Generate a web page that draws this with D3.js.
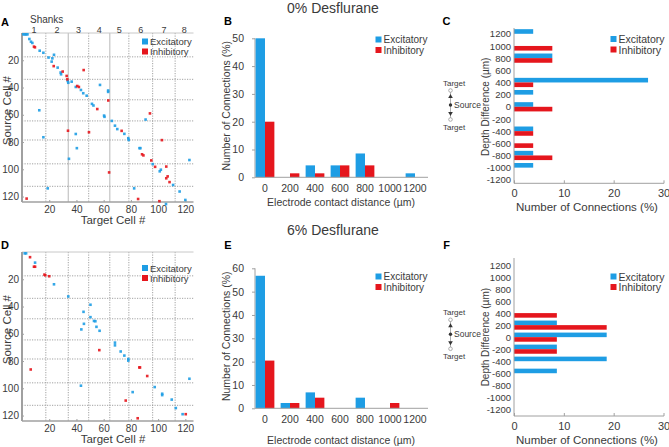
<!DOCTYPE html>
<html><head><meta charset="utf-8">
<script src="https://cdn.jsdelivr.net/npm/d3@7"></script>
<style>
body{margin:0;background:#fff;}
svg{font-family:Arial,"Liberation Sans",sans-serif;}
</style>
</head><body>
<svg id="c" width="669" height="447"></svg>
<script>
// ---------------- DATA ----------------
const shankBounds = [0, 17.5, 34, 49, 64.5, 78.5, 96, 112.5, 126];
const shankLabels = ["1","2","3","4","5","6","7","8"];
const cellTicks = [20, 40, 60, 80, 100, 120];

// [target cell, source cell]
const excit0 = [[1,1],[2,1],[3,1],[4,1],[5.4,4.4],[6.6,6.4],[7.6,7.3],[13,13],[15.7,14.5],[19.5,18],[23.5,16],[22.3,18.6],[21.8,21],[26.2,25.4],[28.4,29],[28.7,30.3],[33.6,35.2],[34,36.5],[36.5,35.7],[39.5,39.6],[43.3,41.8],[45,44.2],[47.5,46],[57.3,38.1],[63.3,42.2],[63.3,43.2],[51.4,52],[52.5,53.2],[60.3,60.6],[60.6,61.5],[66,64.5],[68.3,68],[70,70.5],[75.2,74],[78.1,77.2],[78.4,78.5],[90.8,63.5],[12.7,56.7],[15.7,76.5],[39.5,74.1],[40.3,84.5],[34.5,92.3],[18.9,114],[82.4,114],[86.3,84.5],[87,84.5],[96,96.2],[101.2,101.5],[102,100.3],[111,111.5],[115.8,116.3],[120,122.5],[105.8,125.5],[123,93.2]];
const inhib0 = [[8.8,10],[9.5,10.5],[23.3,24.3],[29.9,28.3],[32.8,31.5],[33.3,34],[40.6,38.9],[41.8,39.6],[45.3,27.2],[63.4,49.5],[55.3,55.8],[73.2,71.8],[49.2,72.8],[33.8,71.7],[64,102.3],[3.4,121.5],[85.3,121.8],[102.8,78.6],[94,59],[88.2,89],[89.2,89.8],[95,93.5],[97.8,98.2],[106,98],[107,105.2],[106,106.6],[108.4,109.4],[101,123.4]];
const excit6 = [[2,1],[3,1],[9.6,7.8],[23.5,23.7],[34,32.6],[50.3,38.7],[45.2,43.9],[50.3,47.8],[52.9,50.6],[53.9,50.8],[45.5,52.7],[54.7,54.9],[43.6,56.8],[57,57.8],[68.3,66.5],[68.3,68.5],[72.5,73],[75.2,76],[78.1,78.5],[78.1,79.7],[43.3,98.1],[81.3,102.8],[97.5,99.1],[103,104],[103,105],[110,108.3],[113,114.5],[118,119],[123,93]];
const inhib6 = [[5.9,3.8],[8.8,10.8],[9.6,10.8],[16.5,16.6],[17.1,17.1],[20,17.8],[56.8,72],[86.2,84.7],[86.7,84.7],[92,91],[6.4,86.2],[76.2,109],[85,122],[120.3,119]];

const distCats = ["0","200","400","600","800","1000","1200"];
const distExc0 = [50, 0, 4.29, 4.29, 8.57, 0, 1.43];
const distInh0 = [20, 1.43, 1.43, 4.29, 4.29, 0, 0];
const distExc6 = [56.8, 2.27, 6.82, 0, 4.55, 0, 0];
const distInh6 = [20.45, 2.27, 4.55, 0, 0, 2.27, 0];
const distTicks0 = [0,10,20,30,40,50];
const distTicks6 = [0,10,20,30,40,50,60];

const depthCats = ["1200","1000","800","600","400","200","0","-200","-400","-600","-800","-1000","-1200"];
const depthExc0 = [3.85, 0, 7.69, 0, 26.9, 3.85, 3.85, 0, 3.85, 0, 3.85, 3.85, 0];
const depthInh0 = [0, 7.69, 7.69, 0, 3.85, 0, 7.69, 0, 3.85, 3.85, 7.69, 0, 0];
const depthExc6 = [0, 0, 0, 0, 0, 8.6, 18.6, 8.6, 18.6, 8.6, 0, 0, 0];
const depthInh6 = [0, 0, 0, 0, 8.6, 18.6, 8.6, 8.6, 0, 0, 0, 0, 0];
const depthTicks = [0, 10, 20, 30];

const seriesNames = ["Excitatory", "Inhibitory"];

// ---------------- STYLE ----------------
const BLUE = "#1e9de4", RED = "#e5161d";
const AX = "#a0a0a0", TXT = "#3a3a3a";
const svg = d3.select("#c");

function txt(g, x, y, s, o = {}) {
  const t = g.append("text").attr("x", x).attr("y", y).text(s)
    .attr("font-size", o.size || 10).attr("fill", o.fill || TXT)
    .attr("text-anchor", o.anchor || "middle")
    .attr("dominant-baseline", "central");
  if (o.weight) t.attr("font-weight", o.weight);
  if (o.rotate) t.attr("transform", `rotate(${o.rotate},${x},${y})`);
  return t;
}
function legend(g, x, y, size, gap) {
  seriesNames.forEach((n, i) => {
    g.append("rect").attr("x", x - 3).attr("y", y + i * gap - 3).attr("width", 6).attr("height", 6)
      .attr("fill", i ? RED : BLUE);
    txt(g, x + 5, y + i * gap, n, {size, anchor: "start"});
  });
}
function styleAxis(a, size) {
  a.selectAll("text").attr("fill", TXT).attr("font-size", size).attr("font-family", "Arial, Liberation Sans, sans-serif");
  a.selectAll("line").attr("stroke", AX);
  a.select(".domain").remove();
}

// ---------------- SCATTER (A, D) ----------------
function scatterPanel(top, exc, inh, shanks, letter, letterY, legY) {
  const g = svg.append("g");
  const x = d3.scaleLinear().domain([0, 126]).range([22, 193.5]);
  const y = d3.scaleLinear().domain([0, 124]).range([top, top + 169]);
  // grid
  shankBounds.slice(1, -1).forEach((b, i) => {
    const solid = shanks && (i === 1 || i === 3);
    g.append("line").attr("x1", x(b)).attr("x2", x(b)).attr("y1", y(0)).attr("y2", y(124))
      .attr("stroke", solid ? "#c4c4c4" : "#8a8a8a").attr("stroke-width", solid ? 1.2 : 0.8)
      .attr("stroke-dasharray", solid ? null : "1.2,1.3");
    g.append("line").attr("x1", x(0)).attr("x2", x(126)).attr("y1", y(b)).attr("y2", y(b))
      .attr("stroke", "#8a8a8a").attr("stroke-width", 0.8).attr("stroke-dasharray", "1.2,1.3");
  });
  // frame
  g.append("line").attr("x1", x(0)).attr("x2", x(126)).attr("y1", y(0)).attr("y2", y(0)).attr("stroke", "#c8c8c8");
  g.append("line").attr("x1", x(0)).attr("x2", x(0)).attr("y1", y(0)).attr("y2", y(124)).attr("stroke", AX).attr("stroke-width", 2);
  g.append("line").attr("x1", x(0)).attr("x2", x(126)).attr("y1", y(124)).attr("y2", y(124)).attr("stroke", AX).attr("stroke-width", 1.5);
  // axes
  const ay = g.append("g").attr("transform", `translate(${x(0)},0)`)
    .call(d3.axisLeft(y).tickValues(cellTicks).tickSizeInner(-2).tickSizeOuter(0).tickPadding(3));
  styleAxis(ay, 10);
  const ax = g.append("g").attr("transform", `translate(0,${y(124)})`)
    .call(d3.axisBottom(x).tickValues(cellTicks).tickSizeInner(-2).tickSizeOuter(0).tickPadding(4));
  styleAxis(ax, 10);
  // points
  const s = 2.6;
  g.selectAll(".e").data(exc).join("rect").attr("x", d => x(d[0]) - s / 2).attr("y", d => y(d[1]) - s / 2)
    .attr("width", s).attr("height", s).attr("fill", BLUE).attr("opacity", 0.9);
  g.selectAll(".i").data(inh).join("rect").attr("x", d => x(d[0]) - s / 2).attr("y", d => y(d[1]) - s / 2)
    .attr("width", s).attr("height", s).attr("fill", RED).attr("opacity", 0.9);
  // shank labels
  if (shanks) {
    txt(g, 30, top - 13.5, "Shanks", {size: 10, anchor: "start"});
    shankLabels.forEach((s, i) => txt(g, x((shankBounds[i] + shankBounds[i + 1]) / 2), top - 3, s, {size: 9}));
  }
  legend(g, 145, legY, 9.5, 10);
  txt(g, 113, y(124) + 18, "Target Cell #", {size: 11.5});
  txt(g, 7, y(57), "Source Cell #", {size: 11.5, rotate: -90});
  txt(g, 5, letterY, letter, {size: 11, weight: "bold", fill: "#000"});
}

// ---------------- DISTANCE BARS (B, E) ----------------
function distPanel(bottom, top, yMax, ticks, exc, inh, title, titleY, letter, letterY, xlabY, legY) {
  const g = svg.append("g");
  const x = d3.scaleBand().domain(distCats).range([252.5, 427.5]).paddingInner(0.25).paddingOuter(0.125);
  const xs = d3.scaleBand().domain(seriesNames).range([0, x.bandwidth()]);
  const y = d3.scaleLinear().domain([0, yMax]).range([bottom, top]);
  const ay = g.append("g").attr("transform", "translate(255,0)")
    .call(d3.axisLeft(y).tickValues(ticks).tickSize(3).tickPadding(8));
  styleAxis(ay, 10.5);
  g.append("line").attr("x1", 255).attr("x2", 255).attr("y1", y(0)).attr("y2", y(yMax)).attr("stroke", AX);
  const ax = g.append("g").attr("transform", `translate(0,${bottom})`)
    .call(d3.axisBottom(x).tickSize(0).tickPadding(7));
  styleAxis(ax, 10.5);
  distCats.forEach((c, i) => {
    [exc[i], inh[i]].forEach((v, k) => {
      if (v <= 0) return;
      g.append("rect").attr("x", x(c) + xs(seriesNames[k])).attr("width", xs.bandwidth())
        .attr("y", y(v)).attr("height", y(0) - y(v)).attr("fill", k ? RED : BLUE);
    });
  });
  g.append("line").attr("x1", 255).attr("x2", 428).attr("y1", bottom).attr("y2", bottom).attr("stroke", AX);
  txt(g, 226, (top + bottom) / 2 - 2, "Number of Connections (%)", {size: 10.5, rotate: -90});
  txt(g, 341, xlabY, "Electrode contact distance (µm)", {size: 10.5});
  txt(g, 333, titleY, title, {size: 14});
  txt(g, 228, letterY, letter, {size: 11, weight: "bold", fill: "#000"});
  legend(g, 378.5, legY, 10, 10.5);
}

// ---------------- DEPTH BARS (C, F) ----------------
function depthPanel(c0, c1, axisY, axisTop, exc, inh, letter, letterY, dotY, legY) {
  const g = svg.append("g");
  const x = d3.scaleLinear().domain([0, 30]).range([514, 663.5]);
  const y = d3.scalePoint().domain(depthCats).range([c0, c1]);
  const bh = y.step() * 0.38;
  depthCats.forEach((c, i) => {
    [exc[i], inh[i]].forEach((v, k) => {
      if (v <= 0) return;
      g.append("rect").attr("x", x(0)).attr("width", x(v) - x(0))
        .attr("y", k ? y(c) : y(c) - bh).attr("height", bh).attr("fill", k ? RED : BLUE);
    });
  });
  const ay = g.append("g").attr("transform", "translate(514,0)")
    .call(d3.axisLeft(y).tickSize(0).tickPadding(3));
  styleAxis(ay, 9.5);
  g.append("line").attr("x1", 514).attr("x2", 514).attr("y1", axisTop).attr("y2", axisY).attr("stroke", AX);
  const ax = g.append("g").attr("transform", `translate(0,${axisY})`)
    .call(d3.axisBottom(x).tickValues(depthTicks).tickSizeInner(-3).tickSizeOuter(0).tickPadding(6));
  styleAxis(ax, 11);
  g.append("line").attr("x1", 514).attr("x2", 664).attr("y1", axisY).attr("y2", axisY).attr("stroke", AX);
  txt(g, 587, axisY + 23.5, "Number of Connections (%)", {size: 11.5});
  txt(g, 485.5, (c0 + c1) / 2, "Depth Difference (µm)", {size: 10, rotate: -90});
  txt(g, 446.5, letterY, letter, {size: 11, weight: "bold", fill: "#000"});
  legend(g, 613.5, legY, 10.5, 10.5);
  // source/target inset
  const ix = 450.5;
  g.append("line").attr("x1", ix).attr("x2", ix).attr("y1", dotY - 14.5).attr("y2", dotY + 14.5).attr("stroke", "#999").attr("stroke-width", 0.8);
  [-14.5, 14.5].forEach(d => g.append("circle").attr("cx", ix).attr("cy", dotY + d).attr("r", 1.8)
    .attr("fill", "#fff").attr("stroke", "#999").attr("stroke-width", 0.8));
  g.append("path").attr("d", `M${ix - 2.3},${dotY - 7}L${ix + 2.3},${dotY - 7}L${ix},${dotY - 11}Z`).attr("fill", "#333");
  g.append("path").attr("d", `M${ix - 2.3},${dotY + 7}L${ix + 2.3},${dotY + 7}L${ix},${dotY + 11}Z`).attr("fill", "#333");
  g.append("circle").attr("cx", ix).attr("cy", dotY).attr("r", 1.7).attr("fill", "#333");
  txt(g, 443, dotY - 22, "Target", {size: 8, anchor: "start"});
  txt(g, 454, dotY, "Source", {size: 8.5, anchor: "start"});
  txt(g, 443, dotY + 22, "Target", {size: 8, anchor: "start"});
}

scatterPanel(33, excit0, inhib0, true, "A", 21.5, 41.5);
scatterPanel(252, excit6, inhib6, false, "D", 245, 268);
distPanel(177.3, 38.3, 50, distTicks0, distExc0, distInh0, "0% Desflurane", 8, "B", 20.5, 201.5, 39.5);
distPanel(408.3, 268.3, 60, distTicks6, distExc6, distInh6, "6% Desflurane", 230, "E", 245, 440, 276.5);
depthPanel(33.8, 179.8, 183.3, 28, depthExc0, depthInh0, "C", 20.5, 105, 39);
depthPanel(265, 409.3, 416, 258, depthExc6, depthInh6, "F", 245, 334.3, 276.5);
</script>
</body></html>
